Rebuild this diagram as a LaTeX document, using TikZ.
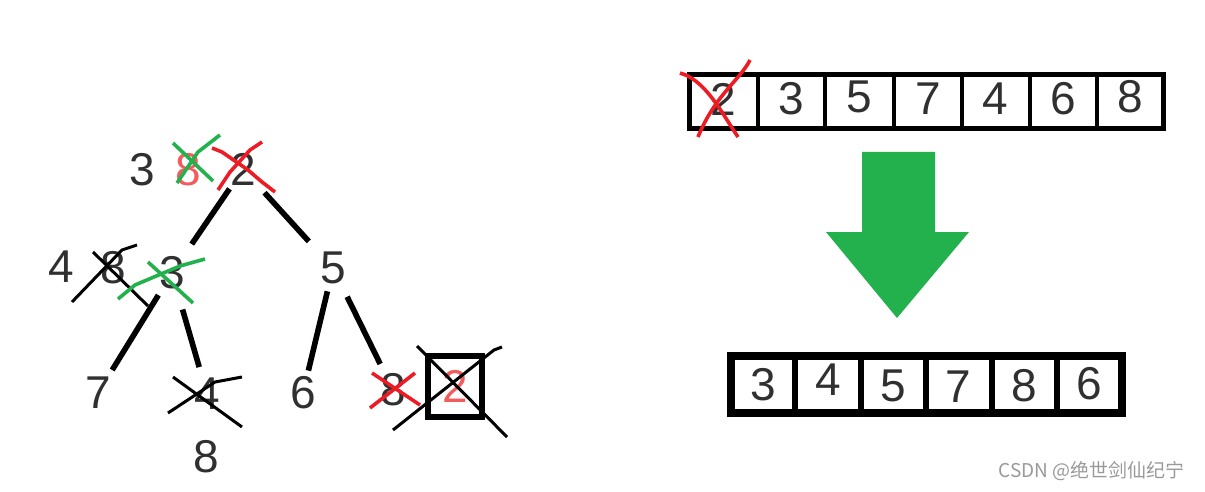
\documentclass[tikz,border=0pt]{standalone}
\usepackage{fontspec}
\setmainfont{Liberation Sans}
\newfontfamily\cjk{Noto Sans CJK SC}
\definecolor{ink}{HTML}{303030}
\definecolor{paintred}{HTML}{ED1C24}
\definecolor{paintgreen}{HTML}{22B14C}
\definecolor{fadered}{HTML}{F25C5C}

\begin{document}
\begin{tikzpicture}[x=0.5pt,y=-0.5pt,
  num/.style={text=ink, font=\fontsize{23}{23}\selectfont, inner sep=0pt},
  tedge/.style 2 args={line width=2.8pt, shorten <=#1, shorten >=#2},
  redpen/.style={paintred, line width=1.8pt},
  greenpen/.style={paintgreen, line width=1.8pt},
  blackpen/.style={black, line width=1.5pt},
  frame/.style={line width=2.5pt},
  bigframe/.style={line width=4pt}]

\useasboundingbox (0,0) rectangle (1205,492);

% tree
\node [num] (n3a) at (142,170) {3};
\node [num, text=fadered] (n8a) at (188,170) {8};
\node [num] (n2) at (243,169) {2};
\node [num] (n4a) at (61,267) {4};
\node [num] (n8b) at (113,268) {8};
\node [num] (n3) at (172,273) {3};
\node [num] (n5) at (333,268) {5};
\node [num] (n7) at (98,393) {7};
\node [num] (n4) at (207,394) {4};
\node [num] (n8c) at (206,457) {8};
\node [num] (n6) at (303,393) {6};
\node [num] (n8) at (393,390) {8};
\node [num, text=fadered, draw=black, line width=3pt,
       minimum width=27pt, minimum height=30.5pt] (n2b) at (455,386.5) {2};

\draw [tedge={12pt}{17.5pt}] (n2.center) -- (n3.center);
\draw [tedge={16pt}{18pt}] (n2.center) -- (n5.center);
\draw [tedge={13pt}{13.5pt}] (n3.center) -- (n7.center);
\draw [tedge={19pt}{14pt}] (n3.center) -- (n4.center);
\draw [tedge={12pt}{11.5pt}] (n5.center) -- (n6.center);
\draw [tedge={16pt}{14.5pt}] (n5.center) -- (n8.center);

% crossed out
\draw [greenpen] (173,143) -- (213,181);
\draw [greenpen] (220,135) -- (198,152) -- (177,183);
\draw [redpen] (212,148) -- (222,152) -- (248,170) -- (262,182) -- (275,192);
\draw [redpen] (262,142) -- (250,150) -- (230,172) -- (218,190);
\draw [blackpen] (93,252) -- (148,306);
\draw [blackpen] (137,245) -- (122,250) -- (72,302);
\draw [greenpen] (148,262) -- (193,303);
\draw [greenpen] (205,259) -- (180,266) -- (135,285) -- (118,299);
\draw [blackpen] (173,377) -- (242,427);
\draw [blackpen] (242,377) -- (215,382) -- (168,413);
\draw [redpen] (372,373) -- (420,405);
\draw [redpen] (415,373) -- (370,408);
\draw [blackpen] (417,346) -- (507,437);
\draw [blackpen] (502,347) -- (494,350) -- (393,430);

% array before
\draw [frame] (689.5,74.5) rectangle (1163.5,128.5);
\draw [line width=2pt] (757.5,74.5) -- (757.5,128.5);
\draw [line width=2pt] (825,74.5) -- (825,128.5);
\draw [line width=2pt] (894,74.5) -- (894,128.5);
\draw [line width=2pt] (961.5,74.5) -- (961.5,128.5);
\draw [line width=2pt] (1029.5,74.5) -- (1029.5,128.5);
\draw [line width=2pt] (1096.5,74.5) -- (1096.5,128.5);
\node [num] (a1) at (723.5,99) {2};
\node [num] (a2) at (791,99) {3};
\node [num] (a3) at (859.5,97) {5};
\node [num] (a4) at (928,99) {7};
\node [num] (a5) at (995.5,99) {4};
\node [num] (a6) at (1063,99) {6};
\node [num] (a7) at (1130,97) {8};
\draw [redpen] (680,73) .. controls (705,80) and (720,110) .. (738,137);
\draw [redpen] (750,60) .. controls (740,80) and (715,95) .. (698,137);

% arrow
\fill [paintgreen] (862,152) -- (935,152) -- (935,232) -- (969,232)
  -- (897,318) -- (826,232) -- (862,232) -- cycle;

% array after
\draw [bigframe] (731,356) rectangle (1122,413);
\draw [line width=3pt] (795,356) -- (795,413);
\draw [line width=3pt] (861,356) -- (861,413);
\draw [line width=3pt] (926,356) -- (926,413);
\draw [line width=3pt] (991.5,356) -- (991.5,413);
\draw [line width=3pt] (1057,356) -- (1057,413);
\node [num] (b1) at (763,385) {3};
\node [num] (b2) at (828,380) {4};
\node [num] (b3) at (893.5,386) {5};
\node [num] (b4) at (958.5,387) {7};
\node [num] (b5) at (1024,386) {8};
\node [num] (b6) at (1089.5,384) {6};

\node [anchor=east, text=black!40, font=\cjk\fontsize{9.5}{9.5}\selectfont]
  (mark) at (1192,471) {CSDN @绝世剑仙纪宁};

\end{tikzpicture}
\end{document}
